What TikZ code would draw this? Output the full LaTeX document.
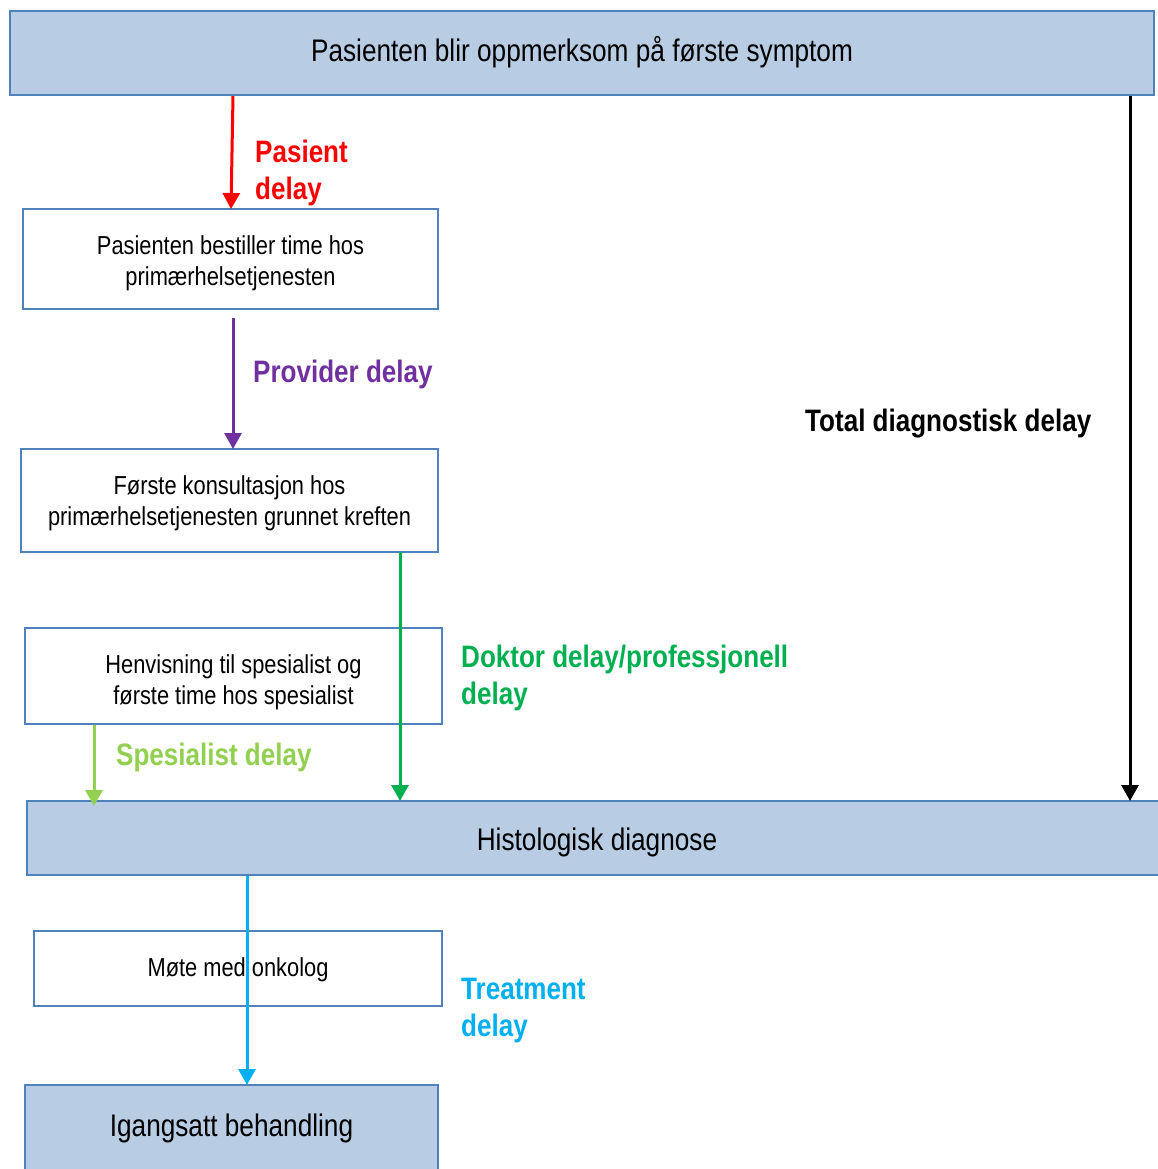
\documentclass[tikz,border=0pt]{standalone}
\usepackage{fontspec}
\setmainfont{Liberation Sans}[FakeStretch=0.84]
\usetikzlibrary{arrows.meta}
\definecolor{boxfill}{HTML}{B8CCE4}
\definecolor{boxline}{HTML}{4F81BD}
\definecolor{cred}{HTML}{FF0000}
\definecolor{cpurple}{HTML}{7030A0}
\definecolor{cgreen}{HTML}{00B050}
\definecolor{clgreen}{HTML}{92D050}
\definecolor{ccyan}{HTML}{00B0F0}
\tikzset{
  bluebox/.style={draw=boxline, fill=boxfill, line width=1.5pt, inner sep=0pt},
  whitebox/.style={draw=boxline, fill=white, line width=1.5pt, inner sep=0pt},
  btext/.style={font=\fontsize{26}{31}\selectfont, align=center},
  bigtext/.style={font=\fontsize{31.2}{36}\selectfont},
  lbl/.style={font=\bfseries\fontsize{31}{37}\selectfont, align=left, anchor=west, inner sep=0pt},
  conn/.style={line width=3pt, -{Triangle[length=16pt,width=17pt]}},
}
\begin{document}
\begin{tikzpicture}[x=1pt,y=-1pt]
\useasboundingbox (0,0) rectangle (1158,1169);
\fill[white] (0,0) rectangle (1158,1169);
% boxes
\node[bluebox, minimum width=1144pt, minimum height=84pt] (top) at (582,53) {};
\node[bigtext] at (582,52) {Pasienten blir oppmerksom på første symptom};
\node[whitebox, minimum width=415pt, minimum height=100pt] (b2) at (230.5,259) {};
\node[btext] at (230.5,263) {Pasienten bestiller time hos\\primærhelsetjenesten};
\node[whitebox, minimum width=417pt, minimum height=103pt] (b3) at (229.5,500.5) {};
\node[btext] at (229.5,503) {Første konsultasjon hos\\primærhelsetjenesten grunnet kreften};
\node[whitebox, minimum width=417pt, minimum height=96pt] (b4) at (233.5,676) {};
\node[btext] at (233.5,682) {Henvisning til spesialist og\\første time hos spesialist};
\node[bluebox, minimum width=1150pt, minimum height=74pt] (hist) at (602,838) {};
\node[bigtext] at (597,842) {Histologisk diagnose};
\node[whitebox, minimum width=408pt, minimum height=75pt] (mote) at (238,968.5) {};
\node[btext] at (238,970) {Møte med onkolog};
\node[bluebox, minimum width=413pt, minimum height=100pt] (start) at (231.5,1135) {};
\node[bigtext] at (231.5,1128) {Igangsatt behandling};
% coordinates for connectors
\coordinate (r1) at (233,96);
\coordinate (r2) at (231,209);
\coordinate (p1) at (233,318);
\coordinate (p2) at (233,449);
\coordinate (g1) at (400,552);
\coordinate (g2) at (400,801);
\coordinate (l1) at (94,725);
\coordinate (l2) at (94,806);
\coordinate (k1) at (1130,96);
\coordinate (k2) at (1130,801);
\coordinate (c1) at (247,876);
\coordinate (c2) at (247,1085);
\draw[conn, color=cred] (r1) -- (r2);
\draw[conn, color=cpurple] (p1) -- (p2);
\draw[conn, color=cgreen] (g1) -- (g2);
\draw[conn, color=clgreen] (l1) -- (l2);
\draw[conn, color=black] (k1) -- (k2);
\draw[conn, color=ccyan] (c1) -- (c2);
% labels
\node[lbl, text=cred] (lp) at (255,173) {Pasient\\delay};
\node[lbl, text=cpurple] (lpr) at (253,374) {Provider delay};
\node[lbl, text=cgreen] (ld) at (461,678) {Doktor delay/professjonell\\delay};
\node[lbl, text=clgreen] (ls) at (116,757) {Spesialist delay};
\node[lbl, text=black] (lt) at (805,424) {Total diagnostisk delay};
\node[lbl, text=ccyan] (lc) at (461,1011) {Treatment\\delay};
\end{tikzpicture}
\end{document}
